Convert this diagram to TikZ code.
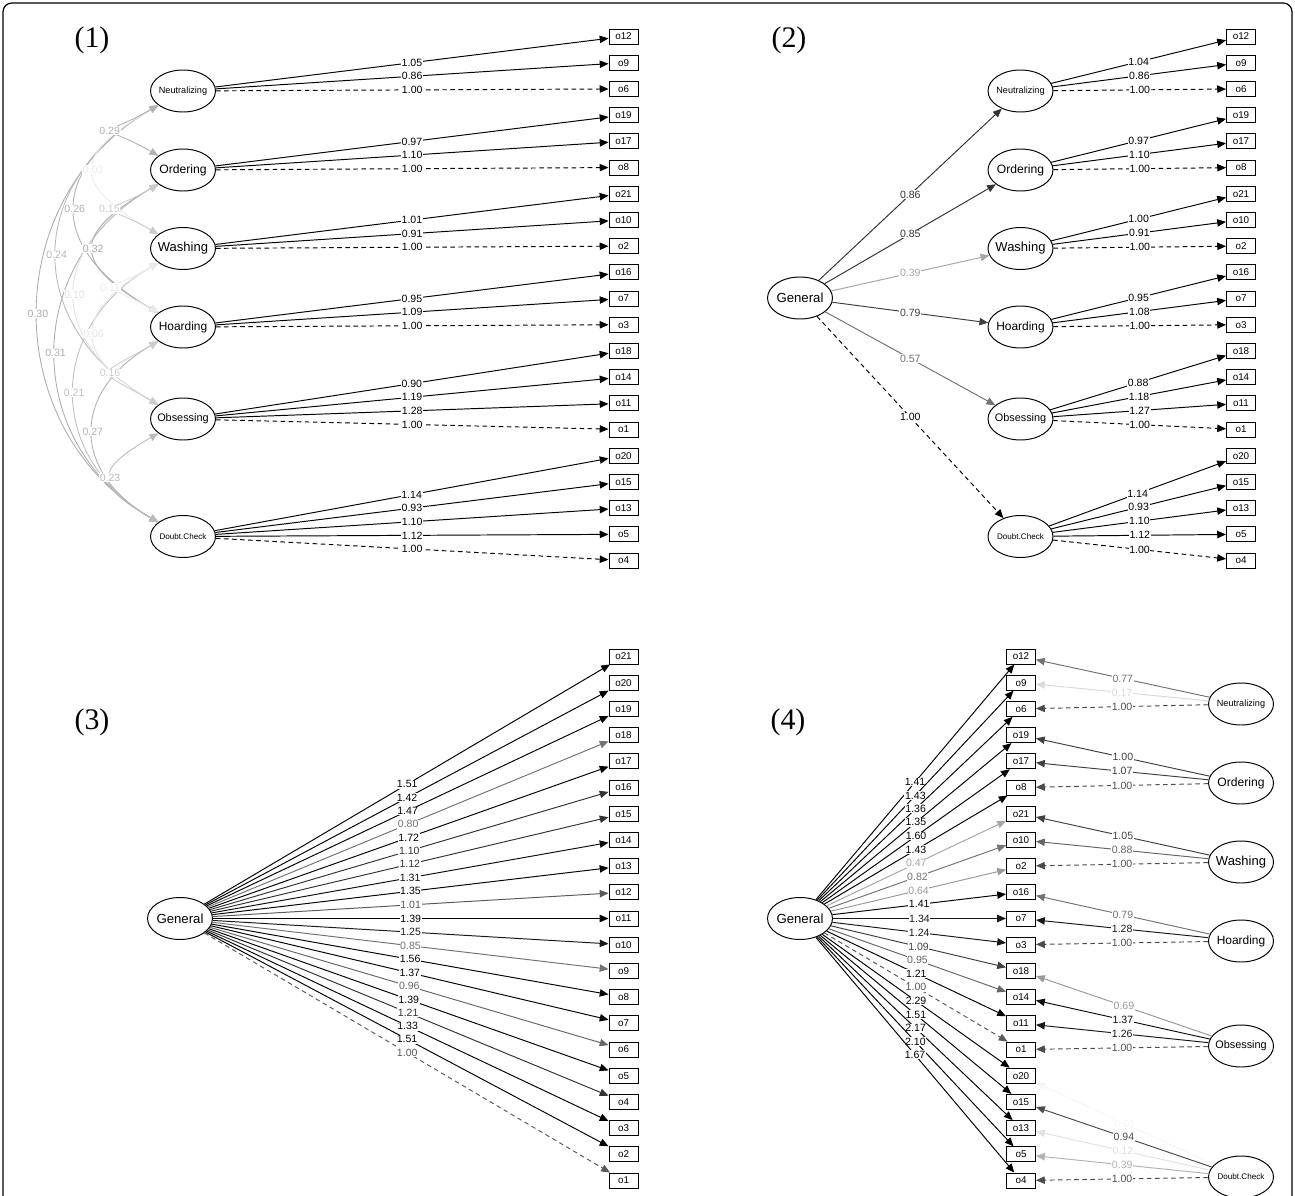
\documentclass[tikz,border=0pt]{standalone}
\usepackage{fontspec}
\setmainfont{Liberation Sans}
\newfontfamily\panelfont{Liberation Serif}
\usetikzlibrary{shapes.geometric,arrows.meta}
\newcommand\lv[2]{\makebox[0pt]{\fontsize{#1}{#1}\selectfont #2}}
\begin{document}
\begin{tikzpicture}[x=0.02cm,y=-0.02cm]

    \tikzset{
      lat/.style={draw, ellipse, line width=0.55pt, inner sep=0pt,
        minimum width=1.3cm, minimum height=0.84cm},
      obs/.style={draw, rectangle, line width=0.55pt, inner sep=0pt,
        minimum width=0.58cm, minimum height=0.3cm,
        font=\fontsize{5.6}{6}\selectfont},
      ld/.style={-{Triangle[length=5pt,width=4.2pt]}, line width=0.55pt},
      fixld/.style={ld, dash pattern=on 2.6pt off 2pt},
      cov/.style={{Triangle[length=5pt,width=4.2pt]}-{Triangle[length=5pt,width=4.2pt]},
        line width=0.5pt},
      est/.style={fill=white, inner sep=0.4pt, font=\fontsize{6}{6}\selectfont},
      panel/.style={font=\panelfont\fontsize{17}{17}\selectfont},
    }
    \useasboundingbox (0,0) rectangle (1295,1196);
    \draw[line width=0.7pt, rounded corners=5pt] (3,3) rectangle (1292,1205);

    % (1)
    \node[panel] (lab1) at (92,40) {(1)};
	\node[lat] (p1neu) at (183,91) {\lv{5.2}{Neutralizing}};
	\node[lat] (p1ord) at (183,170) {\lv{6.9}{Ordering}};
	\node[lat] (p1was) at (183,248.5) {\lv{7.4}{Washing}};
	\node[lat] (p1hoa) at (183,327) {\lv{6.8}{Hoarding}};
	\node[lat] (p1obs) at (183,419) {\lv{6.2}{Obsessing}};
	\node[lat] (p1dou) at (183,536.5) {\lv{4.6}{Doubt.Check}};
	\node[obs] (p1o12) at (623.5,36.5) {o12}; \node[obs] (p1o9) at (623.5,62.7) {o9}; \node[obs] (p1o6) at (623.5,88.9) {o6};
	\node[obs] (p1o19) at (623.5,115.1) {o19}; \node[obs] (p1o17) at (623.5,141.3) {o17}; \node[obs] (p1o8) at (623.5,167.5) {o8};
	\node[obs] (p1o21) at (623.5,193.7) {o21}; \node[obs] (p1o10) at (623.5,219.9) {o10}; \node[obs] (p1o2) at (623.5,246.1) {o2};
	\node[obs] (p1o16) at (623.5,272.3) {o16}; \node[obs] (p1o7) at (623.5,298.5) {o7}; \node[obs] (p1o3) at (623.5,324.7) {o3};
	\node[obs] (p1o18) at (623.5,350.9) {o18}; \node[obs] (p1o14) at (623.5,377.1) {o14}; \node[obs] (p1o11) at (623.5,403.3) {o11};
	\node[obs] (p1o1) at (623.5,429.5) {o1}; \node[obs] (p1o20) at (623.5,455.7) {o20}; \node[obs] (p1o15) at (623.5,481.9) {o15};
	\node[obs] (p1o13) at (623.5,508.1) {o13}; \node[obs] (p1o5) at (623.5,534.3) {o5}; \node[obs] (p1o4) at (623.5,560.5) {o4};
	\draw[ld] (p1neu) -- node[est]{1.05} (p1o12); \draw[ld] (p1neu) -- node[est]{0.86} (p1o9); \draw[fixld] (p1neu) -- node[est]{1.00} (p1o6);
	\draw[ld] (p1ord) -- node[est]{0.97} (p1o19); \draw[ld] (p1ord) -- node[est]{1.10} (p1o17); \draw[fixld] (p1ord) -- node[est]{1.00} (p1o8);
	\draw[ld] (p1was) -- node[est]{1.01} (p1o21); \draw[ld] (p1was) -- node[est]{0.91} (p1o10); \draw[fixld] (p1was) -- node[est]{1.00} (p1o2);
	\draw[ld] (p1hoa) -- node[est]{0.95} (p1o16); \draw[ld] (p1hoa) -- node[est]{1.09} (p1o7); \draw[fixld] (p1hoa) -- node[est]{1.00} (p1o3);
	\draw[ld] (p1obs) -- node[est]{0.90} (p1o18); \draw[ld] (p1obs) -- node[est]{1.19} (p1o14); \draw[ld] (p1obs) -- node[est]{1.28} (p1o11);
	\draw[fixld] (p1obs) -- node[est]{1.00} (p1o1);
	\draw[ld] (p1dou) -- node[est]{1.14} (p1o20); \draw[ld] (p1dou) -- node[est]{0.93} (p1o15); \draw[ld] (p1dou) -- node[est]{1.10} (p1o13);
	\draw[ld] (p1dou) -- node[est]{1.12} (p1o5); \draw[fixld] (p1dou) -- node[est]{1.00} (p1o4);
	% covariances
	\draw[cov, black!32] (p1neu) to[out=210, in=150, looseness=1.14] node[est]{0.30} (p1dou);
	\draw[cov, black!27] (p1neu) to[out=210, in=150, looseness=1.34] node[est]{0.24} (p1obs);
	\draw[cov, black!32] (p1ord) to[out=210, in=150, looseness=1.2] node[est]{0.31} (p1dou);
	\draw[cov, black!30] (p1neu) to[out=210, in=150, looseness=1.59] node[est]{0.26} (p1hoa);
	\draw[cov, black!12] (p1ord) to[out=210, in=150, looseness=1.5] node[est]{0.10} (p1obs);
	\draw[cov, black!25] (p1was) to[out=210, in=150, looseness=1.28] node[est]{0.21} (p1dou);
	\draw[cov, black!8] (p1neu) to[out=210, in=150, looseness=2] node[est]{0.03} (p1was);
	\draw[cov, black!33] (p1ord) to[out=210, in=150, looseness=2] node[est]{0.32} (p1hoa);
	\draw[cov, black!10] (p1was) to[out=210, in=150, looseness=1.8] node[est]{0.06} (p1obs);
	\draw[cov, black!30] (p1hoa) to[out=210, in=150, looseness=1.43] node[est]{0.27} (p1dou);
	\draw[cov, black!30] (p1neu) to[out=210, in=150, looseness=3.8] node[est]{0.29} (p1ord);
	\draw[cov, black!20] (p1ord) to[out=210, in=150, looseness=3.86] node[est]{0.15} (p1was);
	\draw[cov, black!8] (p1was) to[out=210, in=150, looseness=3.8] node[est]{0.11} (p1hoa);
	\draw[cov, black!20] (p1hoa) to[out=210, in=150, looseness=3] node[est]{0.16} (p1obs);
	\draw[cov, black!27] (p1obs) to[out=210, in=150, looseness=2.14] node[est]{0.23} (p1dou);

    % (2)
    \node[panel] (lab2) at (789,40) {(2)};
	\node[lat] (p2gen) at (800,298) {\lv{7.5}{General}};
	\node[lat] (p2neu) at (1020.5,91) {\lv{5.2}{Neutralizing}};
	\node[lat] (p2ord) at (1020.5,170) {\lv{6.9}{Ordering}};
	\node[lat] (p2was) at (1020.5,248.5) {\lv{7.4}{Washing}};
	\node[lat] (p2hoa) at (1020.5,327) {\lv{6.8}{Hoarding}};
	\node[lat] (p2obs) at (1020.5,419) {\lv{6.2}{Obsessing}};
	\node[lat] (p2dou) at (1020.5,536.5) {\lv{4.6}{Doubt.Check}};
	\node[obs] (p2o12) at (1241,36.5) {o12}; \node[obs] (p2o9) at (1241,62.7) {o9}; \node[obs] (p2o6) at (1241,88.9) {o6};
	\node[obs] (p2o19) at (1241,115.1) {o19}; \node[obs] (p2o17) at (1241,141.3) {o17}; \node[obs] (p2o8) at (1241,167.5) {o8};
	\node[obs] (p2o21) at (1241,193.7) {o21}; \node[obs] (p2o10) at (1241,219.9) {o10}; \node[obs] (p2o2) at (1241,246.1) {o2};
	\node[obs] (p2o16) at (1241,272.3) {o16}; \node[obs] (p2o7) at (1241,298.5) {o7}; \node[obs] (p2o3) at (1241,324.7) {o3};
	\node[obs] (p2o18) at (1241,350.9) {o18}; \node[obs] (p2o14) at (1241,377.1) {o14}; \node[obs] (p2o11) at (1241,403.3) {o11};
	\node[obs] (p2o1) at (1241,429.5) {o1}; \node[obs] (p2o20) at (1241,455.7) {o20}; \node[obs] (p2o15) at (1241,481.9) {o15};
	\node[obs] (p2o13) at (1241,508.1) {o13}; \node[obs] (p2o5) at (1241,534.3) {o5}; \node[obs] (p2o4) at (1241,560.5) {o4};
	\draw[ld, black!80] (p2gen) -- node[est]{0.86} (p2neu); \draw[ld, black!80] (p2gen) -- node[est]{0.85} (p2ord);
	\draw[ld, black!35] (p2gen) -- node[est]{0.39} (p2was); \draw[ld, black!75] (p2gen) -- node[est]{0.79} (p2hoa);
	\draw[ld, black!55] (p2gen) -- node[est]{0.57} (p2obs); \draw[fixld] (p2gen) -- node[est]{1.00} (p2dou);
	\draw[ld] (p2neu) -- node[est]{1.04} (p2o12); \draw[ld] (p2neu) -- node[est]{0.86} (p2o9); \draw[fixld] (p2neu) -- node[est]{1.00} (p2o6);
	\draw[ld] (p2ord) -- node[est]{0.97} (p2o19); \draw[ld] (p2ord) -- node[est]{1.10} (p2o17); \draw[fixld] (p2ord) -- node[est]{1.00} (p2o8);
	\draw[ld] (p2was) -- node[est]{1.00} (p2o21); \draw[ld] (p2was) -- node[est]{0.91} (p2o10); \draw[fixld] (p2was) -- node[est]{1.00} (p2o2);
	\draw[ld] (p2hoa) -- node[est]{0.95} (p2o16); \draw[ld] (p2hoa) -- node[est]{1.08} (p2o7); \draw[fixld] (p2hoa) -- node[est]{1.00} (p2o3);
	\draw[ld] (p2obs) -- node[est]{0.88} (p2o18); \draw[ld] (p2obs) -- node[est]{1.18} (p2o14); \draw[ld] (p2obs) -- node[est]{1.27} (p2o11);
	\draw[fixld] (p2obs) -- node[est]{1.00} (p2o1);
	\draw[ld] (p2dou) -- node[est]{1.14} (p2o20); \draw[ld] (p2dou) -- node[est]{0.93} (p2o15); \draw[ld] (p2dou) -- node[est]{1.10} (p2o13);
	\draw[ld] (p2dou) -- node[est]{1.12} (p2o5); \draw[fixld] (p2dou) -- node[est]{1.00} (p2o4);

    % (3)
    \node[panel] (lab3) at (92,722) {(3)};
	\node[lat] (p3gen) at (180,918.5) {\lv{7.5}{General}};
	\node[obs] (p3o21) at (623.5,656.5) {o21}; \node[obs] (p3o20) at (623.5,682.7) {o20}; \node[obs] (p3o19) at (623.5,708.9) {o19};
	\node[obs] (p3o18) at (623.5,735.1) {o18}; \node[obs] (p3o17) at (623.5,761.3) {o17}; \node[obs] (p3o16) at (623.5,787.5) {o16};
	\node[obs] (p3o15) at (623.5,813.7) {o15}; \node[obs] (p3o14) at (623.5,839.9) {o14}; \node[obs] (p3o13) at (623.5,866.1) {o13};
	\node[obs] (p3o12) at (623.5,892.3) {o12}; \node[obs] (p3o11) at (623.5,918.5) {o11}; \node[obs] (p3o10) at (623.5,944.7) {o10};
	\node[obs] (p3o9) at (623.5,970.9) {o9}; \node[obs] (p3o8) at (623.5,997.1) {o8}; \node[obs] (p3o7) at (623.5,1023.3) {o7};
	\node[obs] (p3o6) at (623.5,1049.5) {o6}; \node[obs] (p3o5) at (623.5,1075.7) {o5}; \node[obs] (p3o4) at (623.5,1101.9) {o4};
	\node[obs] (p3o3) at (623.5,1128.1) {o3}; \node[obs] (p3o2) at (623.5,1154.3) {o2}; \node[obs] (p3o1) at (623.5,1180.5) {o1};
	\draw[ld] (p3gen) -- node[est]{1.51} (p3o21); \draw[ld] (p3gen) -- node[est]{1.42} (p3o20); \draw[ld] (p3gen) -- node[est]{1.47} (p3o19);
	\draw[ld, black!55] (p3gen) -- node[est]{0.80} (p3o18); \draw[ld] (p3gen) -- node[est]{1.72} (p3o17);
	\draw[ld, black!80] (p3gen) -- node[est]{1.10} (p3o16); \draw[ld, black!80] (p3gen) -- node[est]{1.12} (p3o15);
	\draw[ld, black!95] (p3gen) -- node[est]{1.31} (p3o14); \draw[ld] (p3gen) -- node[est]{1.35} (p3o13);
	\draw[ld, black!65] (p3gen) -- node[est]{1.01} (p3o12); \draw[ld] (p3gen) -- node[est]{1.39} (p3o11);
	\draw[ld, black!90] (p3gen) -- node[est]{1.25} (p3o10); \draw[ld, black!55] (p3gen) -- node[est]{0.85} (p3o9);
	\draw[ld] (p3gen) -- node[est]{1.56} (p3o8); \draw[ld] (p3gen) -- node[est]{1.37} (p3o7);
	\draw[ld, black!60] (p3gen) -- node[est]{0.96} (p3o6); \draw[ld] (p3gen) -- node[est]{1.39} (p3o5);
	\draw[ld, black!80] (p3gen) -- node[est]{1.21} (p3o4); \draw[ld] (p3gen) -- node[est]{1.33} (p3o3);
	\draw[ld] (p3gen) -- node[est]{1.51} (p3o2); \draw[fixld, black!65] (p3gen) -- node[est]{1.00} (p3o1);

    % (4)
    \node[panel] (lab4) at (788,722) {(4)};
	\node[lat] (p4gen) at (800,918.5) {\lv{7.5}{General}};
	\node[lat] (p4neu) at (1241,704) {\lv{5.2}{Neutralizing}};
	\node[lat] (p4ord) at (1241,783) {\lv{6.9}{Ordering}};
	\node[lat] (p4was) at (1241,862) {\lv{7.4}{Washing}};
	\node[lat] (p4hoa) at (1241,941) {\lv{6.8}{Hoarding}};
	\node[lat] (p4obs) at (1241,1046) {\lv{6.2}{Obsessing}};
	\node[lat] (p4dou) at (1241,1177) {\lv{4.6}{Doubt.Check}};
	\node[obs] (p4o12) at (1021,656.5) {o12}; \node[obs] (p4o9) at (1021,682.7) {o9}; \node[obs] (p4o6) at (1021,708.9) {o6};
	\node[obs] (p4o19) at (1021,735.1) {o19}; \node[obs] (p4o17) at (1021,761.3) {o17}; \node[obs] (p4o8) at (1021,787.5) {o8};
	\node[obs] (p4o21) at (1021,813.7) {o21}; \node[obs] (p4o10) at (1021,839.9) {o10}; \node[obs] (p4o2) at (1021,866.1) {o2};
	\node[obs] (p4o16) at (1021,892.3) {o16}; \node[obs] (p4o7) at (1021,918.5) {o7}; \node[obs] (p4o3) at (1021,944.7) {o3};
	\node[obs] (p4o18) at (1021,970.9) {o18}; \node[obs] (p4o14) at (1021,997.1) {o14}; \node[obs] (p4o11) at (1021,1023.3) {o11};
	\node[obs] (p4o1) at (1021,1049.5) {o1}; \node[obs] (p4o20) at (1021,1075.7) {o20}; \node[obs] (p4o15) at (1021,1101.9) {o15};
	\node[obs] (p4o13) at (1021,1128.1) {o13}; \node[obs] (p4o5) at (1021,1154.3) {o5}; \node[obs] (p4o4) at (1021,1180.5) {o4};
	\draw[ld] (p4gen) -- node[est]{1.41} (p4o12); \draw[ld] (p4gen) -- node[est]{1.43} (p4o9); \draw[ld] (p4gen) -- node[est]{1.36} (p4o6);
	\draw[ld] (p4gen) -- node[est]{1.35} (p4o19); \draw[ld] (p4gen) -- node[est]{1.60} (p4o17); \draw[ld] (p4gen) -- node[est]{1.43} (p4o8);
	\draw[ld, black!35] (p4gen) -- node[est]{0.47} (p4o21); \draw[ld, black!55] (p4gen) -- node[est]{0.82} (p4o10);
	\draw[ld, black!40] (p4gen) -- node[est]{0.64} (p4o2); \draw[ld] (p4gen) -- node[est]{1.41} (p4o16);
	\draw[ld, black!90] (p4gen) -- node[est]{1.34} (p4o7); \draw[ld, black!90] (p4gen) -- node[est]{1.24} (p4o3);
	\draw[ld, black!75] (p4gen) -- node[est]{1.09} (p4o18); \draw[ld, black!60] (p4gen) -- node[est]{0.95} (p4o14);
	\draw[ld] (p4gen) -- node[est]{1.21} (p4o11); \draw[fixld, black!65] (p4gen) -- node[est]{1.00} (p4o1);
	\draw[ld] (p4gen) -- node[est]{2.29} (p4o20); \draw[ld] (p4gen) -- node[est]{1.51} (p4o15);
	\draw[ld] (p4gen) -- node[est]{2.17} (p4o13); \draw[ld] (p4gen) -- node[est]{2.10} (p4o5); \draw[ld] (p4gen) -- node[est]{1.67} (p4o4);
	\draw[ld, black!55] (p4neu) -- node[est]{0.77} (p4o12); \draw[ld, black!15] (p4neu) -- node[est]{0.17} (p4o9);
	\draw[fixld, black!70] (p4neu) -- node[est]{1.00} (p4o6);
	\draw[ld, black!75] (p4ord) -- node[est]{1.00} (p4o19); \draw[ld, black!75] (p4ord) -- node[est]{1.07} (p4o17);
	\draw[fixld, black!70] (p4ord) -- node[est]{1.00} (p4o8);
	\draw[ld, black!75] (p4was) -- node[est]{1.05} (p4o21); \draw[ld, black!60] (p4was) -- node[est]{0.88} (p4o10);
	\draw[fixld, black!70] (p4was) -- node[est]{1.00} (p4o2);
	\draw[ld, black!55] (p4hoa) -- node[est]{0.79} (p4o16); \draw[ld, black!90] (p4hoa) -- node[est]{1.28} (p4o7);
	\draw[fixld, black!70] (p4hoa) -- node[est]{1.00} (p4o3);
	\draw[ld, black!40] (p4obs) -- node[est]{0.69} (p4o18); \draw[ld, black!95] (p4obs) -- node[est]{1.37} (p4o14);
	\draw[ld, black!90] (p4obs) -- node[est]{1.26} (p4o11); \draw[fixld, black!70] (p4obs) -- node[est]{1.00} (p4o1);
	\draw[ld, black!4] (p4dou) -- node[est]{0.01} (p4o20); \draw[ld, black!70] (p4dou) -- node[est]{0.94} (p4o15);
	\draw[ld, black!12] (p4dou) -- node[est]{0.12} (p4o13); \draw[ld, black!30] (p4dou) -- node[est]{0.39} (p4o5);
	\draw[fixld, black!70] (p4dou) -- node[est]{1.00} (p4o4);

\end{tikzpicture}
\end{document}
